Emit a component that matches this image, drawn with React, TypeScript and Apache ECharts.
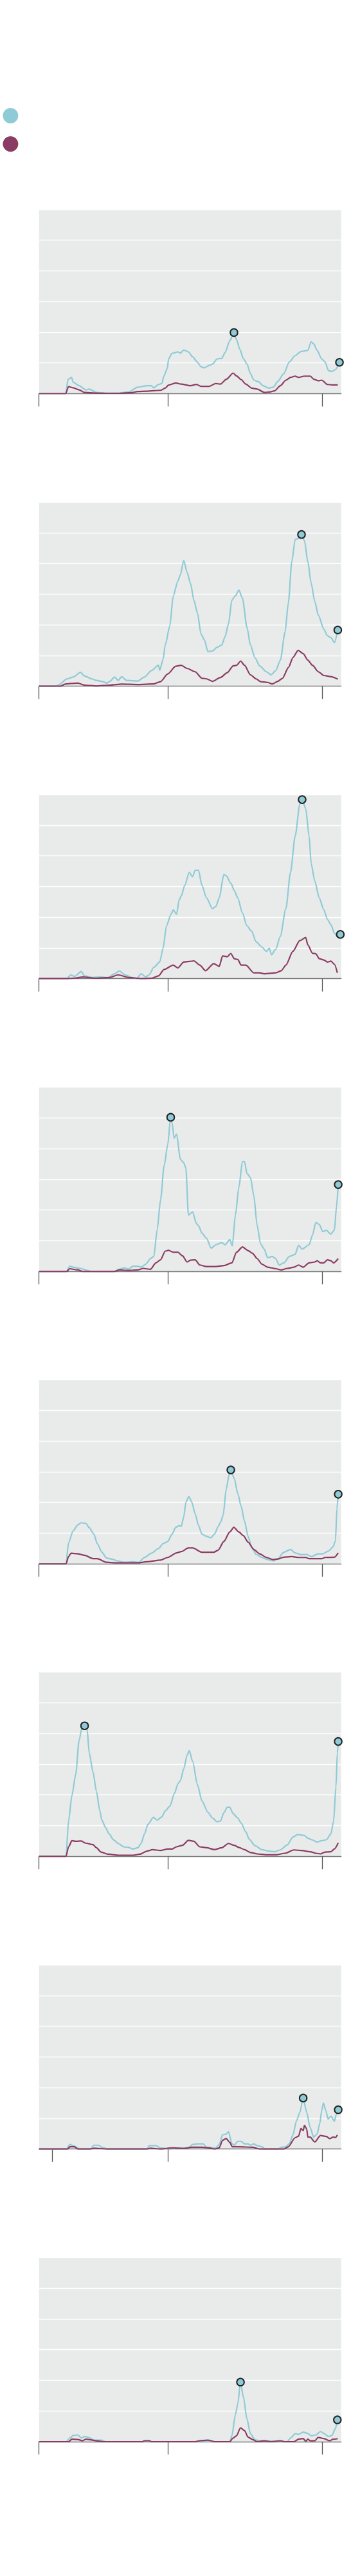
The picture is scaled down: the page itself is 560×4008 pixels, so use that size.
import React, { useEffect, useRef } from "react";
import * as echarts from "echarts";

// Days since 2020-03-01; values in chart units (grid step = 10)
const X_MAX = 716;
const TICKS_DEFAULT = [0, 306, 671];
const TICKS_P7 = [31, 306, 671];

const c1 = [[0,0],[63,0],[69,4.7],[77,5.3],[81,3.7],[95,2.6],[111,1.25],[119,1.5],[136,0.4],[157,0.2],[190,0.2],[212,0.55],[234,2.1],[256,2.6],[266,2.6],[272,1.9],[283,3.0],[291,3.3],[296,5.8],[304,8.2],[307,11.3],[315,13.1],[329,13.6],[335,13.2],[343,14.2],[354,13.6],[364,12.0],[375,10.3],[384,8.75],[392,8.4],[403,9.2],[411,9.6],[422,11.3],[433,11.5],[441,13.4],[452,17.2],[460,19.3],[462,19.9],[468,17.6],[476,14.4],[484,11.5],[493,9.6],[501,6.5],[509,4.4],[520,3.9],[531,2.6],[544,1.8],[555,2.1],[566,4.0],[580,6.5],[593,10.3],[607,12.4],[621,13.75],[637,14.1],[645,16.9],[651,16.2],[659,14.1],[670,11.3],[678,10.3],[686,7.5],[694,7.2],[702,7.8],[712,10.2]];
const m1 = [[0,0],[63,0],[70,2.3],[81,1.9],[95,1.25],[108,0.4],[136,0.2],[163,0.1],[190,0.1],[220,0.35],[234,0.7],[256,0.8],[288,1.1],[299,1.8],[307,2.8],[324,3.5],[337,3.1],[359,2.6],[373,3.0],[384,2.4],[403,2.4],[419,3.3],[430,3.1],[444,4.7],[460,6.7],[468,5.8],[479,4.6],[490,3.1],[504,1.8],[517,1.5],[534,0.4],[547,0.55],[558,0.9],[572,2.6],[585,4.4],[596,5.3],[607,5.7],[615,5.3],[629,5.7],[643,5.7],[651,4.7],[662,4.2],[670,4.4],[683,3.0],[694,2.85],[708,2.85]];

const c2 = [[0,0],[40,0],[48.5,0.55],[65,2.3],[81,3.0],[98,4.5],[108,3.3],[125,2.4],[136,1.9],[152,1.5],[160,1.0],[168,1.6],[179,3.0],[187.5,1.9],[196,3.1],[207,1.9],[234,1.7],[250,3.0],[266.5,5.1],[283,6.8],[286,5.2],[294,8.7],[299,13.4],[310,19.65],[318,29.4],[329,34.2],[335,36.3],[343,41.0],[351,37.0],[359,33.5],[367,28.0],[375.5,23.8],[384,16.9],[392,15.1],[400,11.3],[411,11.5],[422,12.7],[433,13.4],[441,16.2],[449,20.3],[457,28.0],[465,29.4],[473.6,31.3],[482,28.7],[493,19.0],[501,13.4],[512,9.2],[523,6.6],[539,4.7],[550,3.7],[561,5.1],[572,8.5],[583,17.6],[591,27.3],[599,40.5],[607,47.8],[615,48.1],[622,49.4],[629,47.4],[637,40.5],[645,33.5],[653.5,27.6],[662,23.1],[675,18.6],[683,16.5],[692,15.8],[700,14.2],[708,18.3]];
const m2 = [[0,0],[51,0],[62,0.7],[76,0.9],[92,1.0],[108,0.35],[136,0.07],[168,0.35],[196,0.7],[234,0.55],[272,0.75],[288,1.5],[305,4.0],[324,6.5],[337,6.8],[351,5.8],[370,4.7],[386,2.6],[397,2.4],[411,1.6],[430,2.85],[446,4.4],[460,6.6],[468,6.8],[478,8.2],[487,6.8],[501,3.7],[514.5,2.4],[525,1.5],[541.7,1.25],[552.6,0.75],[566,1.6],[577,2.6],[591,6.1],[602,9.4],[614,11.7],[626,10.6],[637,8.5],[648,6.8],[662,4.7],[675,3.5],[692,3.1],[708,2.3]];

const c3 = [[0,0],[65,0],[76,1.25],[84,0.7],[100,2.3],[108,0.9],[125,0.4],[147,0.55],[163,0.35],[179,1.6],[190,2.5],[204,1.25],[220,0.4],[231,0],[242,1.6],[253,0.55],[261,1.25],[272,3.7],[286,5.4],[294,9.9],[302,17.2],[313,21.0],[318,22.4],[326,21.0],[332,25.6],[337,26.9],[345.5,30.4],[356,34.6],[364,33.2],[370,35.3],[378,35.3],[386,30.4],[397,26.3],[411,22.8],[419,23.5],[427,26.3],[438,33.9],[443.6,33.5],[454.5,31.1],[462.7,28.7],[471,26.3],[482,21.4],[492.7,17.2],[503.6,15.5],[514.5,12.0],[528,10.3],[539,8.9],[545.5,9.9],[551,7.8],[561,9.6],[571.7,13.75],[585,22.8],[596,34.6],[607,46.4],[618,56.8],[623.5,58.3],[632,55.4],[640,46.4],[645,37.4],[653.5,31.8],[664,26.3],[675,22.4],[683.4,19.3],[691.6,17.6],[700,14.8],[708,13.6],[714,14.4]];
const m3 = [[0,0],[68,0],[87,0.2],[103,0.55],[136,0.15],[168,0.4],[187.5,1.25],[212,0.4],[245,0],[266.5,0.15],[283,0.9],[296.5,3.0],[318,4.4],[329,3.5],[343,5.4],[356,5.6],[367,5.8],[381,4.4],[394.6,2.6],[414,4.9],[427,4.0],[435,7.4],[446,7.15],[454.5,8.2],[462.7,6.5],[471,6.25],[479,4.4],[490,4.4],[509,1.9],[522.7,1.9],[533.6,1.6],[561,1.9],[574,2.6],[585,4.4],[601.7,8.9],[618,12.4],[632,13.4],[637,11.0],[648,8.3],[656,8.1],[664,6.5],[675,6.1],[683.4,5.4],[691.6,5.7],[700,4.7],[707,1.9]];

const c4 = [[0,0],[65,0],[73,1.7],[81,1.4],[98,1.0],[114,0.35],[125,0],[179,0],[190,0.7],[201,1.2],[212,0.8],[223,1.7],[234,1.7],[242,1.4],[253,2.4],[264,4.2],[272,4.9],[280,13.5],[288,23.3],[296.5,34.4],[305,41.3],[312,50.2],[315.5,48.3],[320,43.4],[326,44.7],[335,36.5],[343,35.4],[348,33.7],[354,18.4],[364,19.4],[373,15.6],[378,14.9],[386,12.5],[397,10.8],[408,7.6],[419,8.7],[433,9.4],[441,8.7],[452,10.4],[458,8.3],[465.4,18.4],[473.6,27.4],[482,35.8],[487,35.8],[492.7,31.9],[501,30.6],[509,24.7],[517,14.9],[525,9.0],[533.6,7.3],[541.7,4.5],[552.6,4.9],[561,4.2],[569,2.1],[580,2.8],[593.5,4.9],[607,5.6],[615,8.5],[623.5,7.3],[640,8.7],[648,11.8],[656,16.0],[664,15.3],[672.5,13.0],[680.7,13.4],[691.6,12.2],[700,13.5],[705,21.2],[709,28.3]];
const m4 = [[0,0],[65,0],[73,0.9],[92,0.5],[103,0],[179,0],[190,0.5],[212,0.35],[234,0.5],[247,1.0],[264,0.7],[277,2.8],[288,3.8],[299,6.6],[307,6.9],[318,6.25],[329,6.25],[340,5.1],[351,3.1],[359,3.7],[370,3.8],[381,2.1],[397,1.6],[419,1.6],[438,1.9],[457,2.8],[468,6.25],[482,8.0],[495.4,6.8],[506,5.9],[517,4.2],[528,2.4],[541.7,1.4],[561,0.9],[574,0.5],[588,1.0],[604,1.4],[615,2.1],[626,1.4],[640,2.8],[653.5,3.1],[659,3.5],[667,2.8],[675,2.8],[683.4,3.8],[691.6,3.5],[698,2.8],[709,4.2]];

const c5 = [[0,0],[64,0],[70,6.9],[81,10.8],[92,12.7],[100,13.4],[111,13.2],[119,11.8],[130,9.7],[138,6.6],[149,3.8],[160,1.9],[174,1.5],[185,1.0],[201,0.55],[223,0.7],[236.5,0.55],[250,2.1],[266.5,3.5],[283,5.0],[294,6.6],[305,7.3],[315.5,9.7],[324,11.9],[332,12.5],[337,12.2],[343,15.3],[348,20.1],[355,21.9],[362,20.1],[370,16.3],[378,12.5],[386,9.7],[397,9.0],[407,8.5],[416,9.7],[424.6,12.2],[431,13.75],[436.5,16.0],[443.6,24.3],[450.7,29.2],[454.5,30.6],[462.7,27.8],[471,22.9],[479,18.75],[487,13.9],[495.4,9.0],[503.6,5.6],[514.5,3.1],[528,2.1],[541.7,1.4],[555,1.0],[566,1.7],[580,3.8],[596,4.7],[607,3.6],[620.8,3.0],[634.4,3.1],[645,2.4],[661.6,3.3],[672.5,3.3],[686,4.2],[697,5.6],[702.5,7.6],[706,18.1],[709,22.7]];
const m5 = [[0,0],[64,0],[70,2.4],[76,3.5],[92,3.3],[108,2.8],[128,1.7],[138,1.7],[160,0.55],[179,0.35],[234,0.35],[256,0.7],[288,1.25],[305,2.1],[326,3.6],[337,4.0],[354,5.2],[364,5.2],[386,3.8],[414,3.8],[424.6,4.5],[438,7.3],[452,10.4],[461.6,11.9],[473.6,10.4],[484.5,9.2],[495.4,7.1],[509,4.7],[522.7,3.3],[539,2.1],[555,1.4],[566,1.6],[580,2.2],[599,2.4],[615,2.1],[632,2.1],[640,1.7],[670,1.7],[678,2.1],[700,2.2],[709,3.6]];

const c6 = [[0,0],[64,0],[70,11.5],[78,19.8],[87,26.7],[95,37.8],[102,42.0],[108,42.5],[114,41.3],[119,33.7],[128,27.4],[136,21.2],[144,14.9],[149,11.8],[157.5,9.4],[166,7.3],[177,5.35],[187.5,4.2],[201,3.1],[212,2.9],[223,2.4],[234,2.8],[242,4.2],[250,7.3],[258,10.4],[271,12.7],[280,11.8],[291,12.85],[299,14.8],[310,16.3],[321,20.5],[329,23.6],[335,24.65],[343,28.5],[351,33.0],[356,34.4],[364,30.9],[375.5,23.3],[386,18.1],[400,14.4],[411,12.5],[422,11.3],[430,11.5],[438,14.2],[446,16.0],[452,16.0],[460,13.9],[471,12.5],[479,10.8],[490,8.0],[498,5.6],[511.8,3.5],[528,2.2],[544.5,1.7],[558,1.5],[571.7,2.1],[588,3.7],[601.7,6.25],[612.6,7.1],[629,6.8],[637,5.9],[648,5.35],[659,4.65],[670,5.1],[680.7,5.4],[691.6,7.3],[698,11.5],[703.6,22.6],[707,33.7],[709,37.4]];
const m6 = [[0,0],[64,0],[70,3.1],[78,5.1],[87,4.9],[100,5.0],[111,4.3],[128,3.8],[136,2.8],[147,1.4],[163,0.7],[190,0.35],[223,0.35],[239,0.7],[256,1.7],[269,2.2],[288,1.9],[305,2.4],[315.5,2.4],[326,3.1],[340,3.6],[354,5.2],[367,4.9],[381,3.1],[397,2.8],[416,2.2],[433,2.8],[449,4.2],[462.7,3.6],[473.6,2.9],[487,2.2],[501,1.25],[517,0.8],[539,0.5],[561,0.5],[582.6,1.0],[604,2.1],[620.8,1.9],[642.6,1.5],[656,1.0],[667,0.8],[678,1.4],[691.6,1.5],[700,2.4],[709,4.4]];

const c7 = [[0,0],[65,0],[73,1.5],[81,1.1],[92,0.4],[95,0],[122,0],[130,1.25],[141,1.25],[149,0.6],[163,0],[256,0],[261,1.1],[277,1.1],[288,0.4],[310,0],[332,0.4],[354,0.4],[364,1.5],[375.5,1.7],[389,1.7],[397,0.55],[419,0.4],[427,1.5],[435,4.6],[443.6,4.9],[449,5.6],[457,1.8],[462.7,1.25],[471,2.5],[479,2.5],[487,1.7],[495.4,1.7],[501,1.25],[509,1.7],[517,1.1],[528,0.75],[536,0],[566,0],[574,0.55],[585,0.75],[593.5,1.8],[601.7,4.6],[610,9.1],[618,11.9],[626,16.6],[634.4,11.9],[642.6,7.0],[650.7,3.9],[659,4.9],[665.4,8.4],[670,12.6],[674,15.0],[679.6,12.6],[685,9.8],[691.6,10.7],[700,9.1],[705,11.5],[709,12.8]];
const m7 = [[0,0],[68,0],[73,0.75],[84,0.75],[92,0],[122,0],[130,0.3],[163,0],[256,0],[264,0.3],[288,0],[315.5,0.4],[343,0.2],[362,0.6],[386,0.6],[403,0.4],[416,0],[427,0.4],[435,2.85],[443.6,3.4],[452,2.15],[458,0.75],[473.6,0.75],[506,0.6],[522.7,0],[580,0],[590.8,0.75],[607,3.7],[615,4.2],[620.8,6.7],[626,6.0],[629,7.7],[634.4,6.5],[637,3.9],[642.6,3.9],[653.5,2.3],[667,4.4],[680.7,4.1],[689,3.4],[697,3.9],[702.5,3.75],[707,4.6]];

const c8 = [[0,0],[65,0],[73,1.2],[81,2.0],[92,2.2],[100,1.2],[108,1.7],[119,1.3],[130,0.5],[147,0.5],[157.5,0],[452,0],[457,1.9],[465.4,8.8],[471,12.3],[477.4,19.4],[484.5,14.4],[492.7,7.4],[501,2.6],[511.8,0.6],[522.7,0.3],[588,0],[596,1.2],[607,2.6],[615,2.4],[626,3.1],[637,2.7],[645,1.9],[656,2.2],[667,3.3],[675,2.7],[686,1.7],[694,2.0],[702.5,4.3],[707,7.1]];
const m8 = [[0,0],[70,0],[78,0.8],[92,0.7],[103,0.3],[111,0.8],[122,0.6],[136,0.3],[152,0],[245,0],[250,0.3],[261,0.3],[266.5,0],[370,0],[381,0.3],[400,0.5],[416,0],[452,0],[460,1.2],[468,1.9],[477.4,4.5],[487,3.6],[495.4,1.5],[506,0.7],[517,0],[533.6,0.3],[550,0],[571.7,0.3],[582.6,0],[604,0],[615,0.8],[626,1.0],[632,0.15],[637,0.8],[642.6,0.3],[653.5,0.3],[661.6,1.4],[675,1.0],[689,0.3],[697,0.8],[708,1.0]];

const CYAN = [c1, c2, c3, c4, c5, c6, c7, c8];
const MAROON = [m1, m2, m3, m4, m5, m6, m7, m8];
const TICKS = [TICKS_DEFAULT, TICKS_DEFAULT, TICKS_DEFAULT, TICKS_DEFAULT, TICKS_DEFAULT, TICKS_DEFAULT, TICKS_P7, TICKS_DEFAULT];

const COLOR_CYAN = "#8ecbd6";
const COLOR_MAROON = "#8b3c62";
const BG = "#e9eaea";

// layout
const AXIS_Y = [612.5, 1067.7, 1522.7, 1978.3, 2433.3, 2888.3, 3343.7, 3799];
const PLOT_H = 286.7;
const PLOT_LEFT = 60.7;
const PLOT_W = 470;

export default function App() {
  const ref = useRef<HTMLDivElement>(null);
  useEffect(() => {
    if (!ref.current) return;
    const chart = echarts.init(ref.current, undefined, { renderer: "svg" });
    const grid: any[] = [];
    const xAxis: any[] = [];
    const yAxis: any[] = [];
    const series: any[] = [];
    for (let i = 0; i < 8; i++) {
      grid.push({
        left: PLOT_LEFT,
        top: AXIS_Y[i] - PLOT_H,
        width: PLOT_W,
        height: PLOT_H,
        show: true,
        backgroundColor: BG,
        borderWidth: 0,
      });
      xAxis.push({
        type: "value",
        gridIndex: i,
        min: 0,
        max: X_MAX,
        splitLine: { show: false },
        axisLabel: { show: false, customValues: TICKS[i] },
        axisLine: { show: true, lineStyle: { color: "#7a7a7a", width: 1.3 } },
        axisTick: {
          show: true,
          customValues: TICKS[i],
          length: 20,
          lineStyle: { color: "#555", width: 1.3 },
        },
      });
      yAxis.push({
        type: "value",
        gridIndex: i,
        min: 0,
        max: 60,
        interval: 10,
        axisLine: { show: false },
        axisTick: { show: false },
        axisLabel: { show: false },
        splitLine: { show: true, lineStyle: { color: "#ffffff", width: 1.3 } },
      });
      const cy = CYAN[i];
      let peak = cy[0];
      for (const p of cy) if (p[1] > peak[1]) peak = p;
      const last = cy[cy.length - 1];
      series.push({
        type: "line",
        xAxisIndex: i,
        yAxisIndex: i,
        data: cy,
        showSymbol: false,
        smooth: 0.25,
        smoothMonotone: "x",
        lineStyle: { color: COLOR_CYAN, width: 2.2 },
        z: 3,
        silent: true,
      });
      series.push({
        type: "line",
        xAxisIndex: i,
        yAxisIndex: i,
        data: MAROON[i],
        showSymbol: false,
        smooth: 0.25,
        smoothMonotone: "x",
        lineStyle: { color: COLOR_MAROON, width: 2.2 },
        z: 4,
        silent: true,
      });
      series.push({
        type: "scatter",
        xAxisIndex: i,
        yAxisIndex: i,
        data: [peak, last],
        symbol: "circle",
        symbolSize: 11.5,
        clip: false,
        itemStyle: { color: COLOR_CYAN, borderColor: "#222", borderWidth: 2, opacity: 1 },
        z: 5,
        silent: true,
      });
    }
    chart.setOption({
      animation: false,
      backgroundColor: "#ffffff",
      grid,
      xAxis,
      yAxis,
      series,
      graphic: [
        { type: "circle", shape: { cx: 16.4, cy: 180, r: 12 }, style: { fill: COLOR_CYAN } },
        { type: "circle", shape: { cx: 16.4, cy: 224, r: 12 }, style: { fill: COLOR_MAROON } },
      ],
    });
    return () => chart.dispose();
  }, []);
  return (
    <div
      ref={ref}
      style={{ position: "absolute", left: 0, top: 0, width: 560, height: 4008 }}
    />
  );
}
